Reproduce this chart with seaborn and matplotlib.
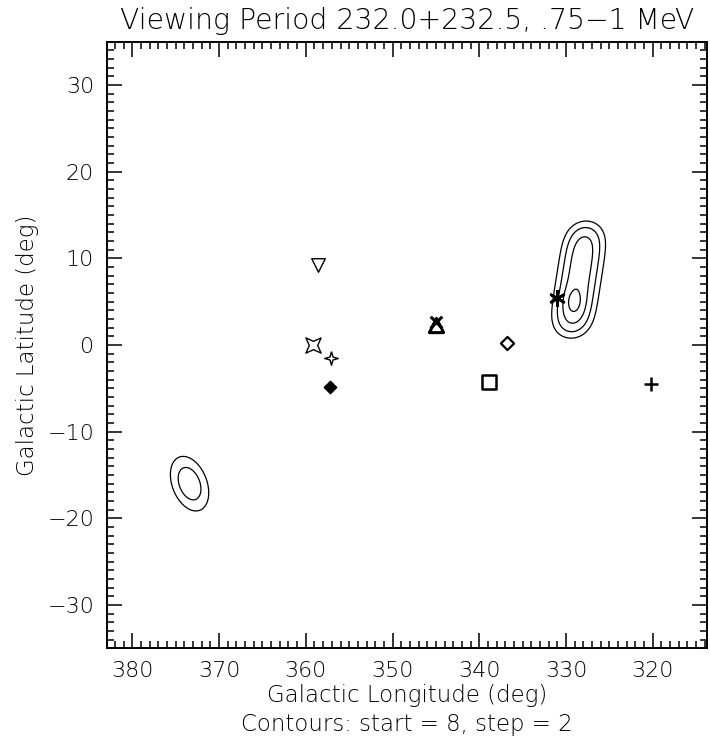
import numpy as np
import pandas as pd
import matplotlib
matplotlib.use("Agg")
import matplotlib.pyplot as plt
import seaborn as sns

# ---------------- data ----------------
title = "Viewing Period 232.0+232.5, .75\u22121 MeV"
xlabel = "Galactic Longitude (deg)"
ylabel = "Galactic Latitude (deg)"
subtitle = "Contours: start = 8, step = 2"

# source markers (lon, lat)
src_name = ["tri_down", "star4_fat", "star4_thin", "diam_fill", "tri_up", "cross",
            "diam_open", "square", "asterisk", "plus"]
src_lon = [358.6, 359.2, 357.1, 357.2, 345.0, 345.0, 336.8, 338.9, 331.0, 320.2]
src_lat = [9.2, 0.0, -1.5, -4.8, 2.3, 2.7, 0.2, -4.3, 5.4, -4.5]

x_ticks = [380, 370, 360, 350, 340, 330, 320]
y_ticks = [30, 20, 10, 0, -10, -20, -30]

# contour levels
contour_levels = [8, 10, 12, 14]

# right emission ridge: endpoints (lon, lat), plateau height, widths
ridge_start = (329.65, 0.45)
ridge_end = (327.45, 14.65)
ridge_peak = 13.4
ridge_sigma_across = 2.55
ridge_sigma_along = 1.8
# local maximum on the ridge
bump_lon, bump_lat, bump_amp, bump_sx, bump_sy = 329.15, 5.0, 1.6, 0.8, 1.1
# left blob: rotated gaussian
blob_lon, blob_lat, blob_amp = 373.4, -16.0, 11.3
blob_sig_major, blob_sig_minor, blob_angle = 3.96, 2.4, 68.7

xlim = (382.95, 313.75)
ylim = (-35, 35)

# ---------------- field ----------------
lon = np.arange(300, 396, 0.2)
lat = np.arange(-40, 40, 0.2)
LON, LAT = np.meshgrid(lon, lat)

field = np.zeros_like(LON)
ts = np.linspace(0, 1, 80)
ridge = np.zeros_like(LON)
for t in ts:
    cx = ridge_start[0] + t * (ridge_end[0] - ridge_start[0])
    cy = ridge_start[1] + t * (ridge_end[1] - ridge_start[1])
    ridge += np.exp(-((LON - cx) ** 2 / (2 * ridge_sigma_across ** 2)
                      + (LAT - cy) ** 2 / (2 * ridge_sigma_along ** 2)))
ridge = ridge / ridge.max() * ridge_peak
field += ridge
field += bump_amp * np.exp(-((LON - bump_lon) ** 2 / (2 * bump_sx ** 2)
                             + (LAT - bump_lat) ** 2 / (2 * bump_sy ** 2)))
th = np.deg2rad(blob_angle)
dx = LON - blob_lon
dy = LAT - blob_lat
u = dx * np.cos(th) + dy * np.sin(th)
v = -dx * np.sin(th) + dy * np.cos(th)
field += blob_amp * np.exp(-(u ** 2 / (2 * blob_sig_major ** 2) + v ** 2 / (2 * blob_sig_minor ** 2)))

# ---------------- plot ----------------
sns.set_theme(style="white")
plt.rcParams["font.family"] = ["DejaVu Sans"]
plt.rcParams["font.weight"] = "light"
plt.rcParams["axes.titleweight"] = "light"
plt.rcParams["axes.labelweight"] = "light"
plt.rcParams["axes.unicode_minus"] = True
plt.rcParams["text.color"] = "black"
plt.rcParams["axes.labelcolor"] = "black"
plt.rcParams["xtick.color"] = "black"
plt.rcParams["ytick.color"] = "black"

fig = plt.figure(figsize=(7.1, 7.4), dpi=100)
ax = fig.add_axes([0.1503, 0.1239, 0.8455, 0.8197])

ax.contour(LON, LAT, field, levels=contour_levels, colors="black", linewidths=0.9)

fat_star = [(1, 1), (0, 0.55), (-1, 1), (-0.55, 0), (-1, -1), (0, -0.55), (1, -1), (0.55, 0), (1, 1)]
thin_star = [(0, 1), (0.22, 0.22), (1, 0), (0.22, -0.22), (0, -1), (-0.22, -0.22), (-1, 0), (-0.22, 0.22), (0, 1)]

styles = {
    "tri_down": dict(marker="v", s=95, facecolor="white", edgecolor="black", linewidth=1.0),
    "star4_fat": dict(marker=fat_star, s=120, facecolor="white", edgecolor="black", linewidth=1.0),
    "star4_thin": dict(marker=thin_star, s=95, facecolor="white", edgecolor="black", linewidth=1.0),
    "diam_fill": dict(marker="D", s=40, facecolor="black", edgecolor="black", linewidth=1.0),
    "tri_up": dict(marker="^", s=105, facecolor="white", edgecolor="black", linewidth=2.2),
    "cross": dict(marker="x", s=70, color="black", linewidth=2.2),
    "diam_open": dict(marker="D", s=45, facecolor="white", edgecolor="black", linewidth=1.6),
    "square": dict(marker="s", s=110, facecolor="white", edgecolor="black", linewidth=1.8),
    "asterisk": dict(marker=(6, 2, 0), s=110, color="black", linewidth=2.0),
    "plus": dict(marker="+", s=110, color="black", linewidth=1.8),
}
df = pd.DataFrame({"name": src_name, "lon": src_lon, "lat": src_lat})
for name in src_name:
    sub = df[df["name"] == name]
    sns.scatterplot(data=sub, x="lon", y="lat", ax=ax, legend=False, zorder=5,
                    **styles[name])

ax.set_xlim(*xlim)
ax.set_ylim(*ylim)
ax.xaxis.set_minor_locator(matplotlib.ticker.MultipleLocator(1))
ax.yaxis.set_minor_locator(matplotlib.ticker.MultipleLocator(1))
ax.set_yticks(y_ticks)
ax.set_xticks(x_ticks)
ax.tick_params(which="both", direction="in", top=True, right=True, bottom=True, left=True,
               colors="black", width=1.1)
ax.tick_params(which="major", length=10.5, labelsize=16, pad=9)
ax.tick_params(which="minor", length=5.2)
for sp in ax.spines.values():
    sp.set_linewidth(1.4)
    sp.set_color("black")

ax.set_xlabel(xlabel, fontsize=16.5, labelpad=2)
ax.set_ylabel(ylabel, fontsize=16.5, labelpad=6)
ax.set_title(title, fontsize=20.3, pad=9)
fig.text(0.573, 0.006, subtitle, fontsize=16.5, ha="center", va="bottom")

fig.savefig("out.png", dpi=100)
